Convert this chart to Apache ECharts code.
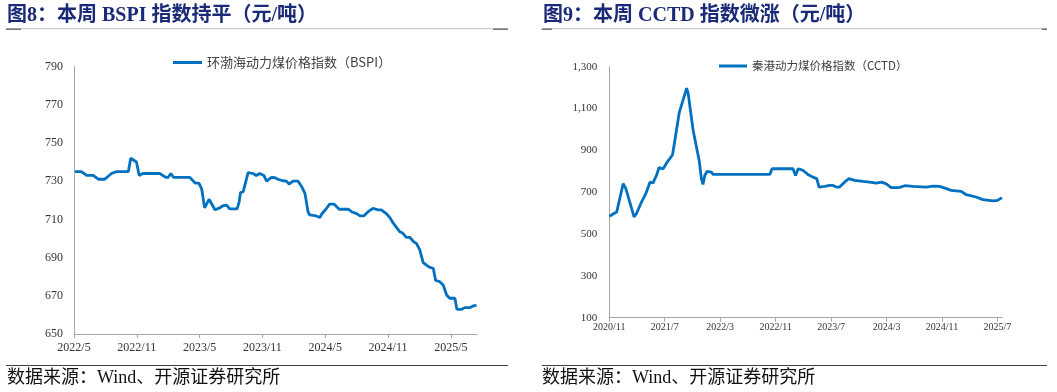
<!DOCTYPE html>
<html>
<head>
<meta charset="utf-8">
<script src="https://cdn.jsdelivr.net/npm/echarts@6/dist/echarts.min.js"></script>
<style>
html,body{margin:0;padding:0;background:#fff;}
#c{width:1057px;height:392px;}
</style>
</head>
<body>
<div id="c"></div>
<script>
// ---------- data ----------
const bspiDates = ['2022-05-04','2022-05-23','2022-06-07','2022-06-26','2022-07-11','2022-07-30','2022-08-19','2022-09-03','2022-10-07','2022-10-14','2022-10-31','2022-11-08','2022-11-18','2023-01-07','2023-01-25','2023-02-01','2023-02-08','2023-02-15','2023-04-03','2023-04-18','2023-04-29','2023-05-07','2023-05-16','2023-05-21','2023-05-29','2023-06-15','2023-06-29','2023-07-07','2023-07-11','2023-07-19','2023-07-28','2023-08-19','2023-08-25','2023-08-29','2023-09-06','2023-09-20','2023-10-04','2023-10-14','2023-10-24','2023-11-05','2023-11-13','2023-11-27','2023-12-07','2023-12-16','2023-12-30','2024-01-10','2024-01-18','2024-01-30','2024-02-13','2024-02-23','2024-03-03','2024-03-12','2024-03-17','2024-04-01','2024-04-16','2024-04-21','2024-05-03','2024-05-14','2024-05-27','2024-06-11','2024-07-07','2024-07-17','2024-08-01','2024-08-11','2024-08-22','2024-09-04','2024-09-18','2024-10-02','2024-10-12','2024-10-27','2024-11-06','2024-11-16','2024-12-05','2024-12-14','2024-12-24','2025-01-03','2025-01-15','2025-01-23','2025-02-02','2025-02-11','2025-02-20','2025-03-01','2025-03-11','2025-03-18','2025-03-30','2025-04-09','2025-04-19','2025-04-28','2025-05-13','2025-05-19','2025-06-02','2025-06-11','2025-06-26','2025-07-05','2025-07-15'];
const bspiValues = [735,735,733,733,731,731,734,735,735,742,740,733,734,734,732,732,734,732,732,729,729,726,716,716,720.5,715,716,717,716,717.5,715.5,715.5,719,724,724.5,734.5,734,733,734,733,730,732,731.8,731,730.2,730,728.5,730,730,727,723.6,714,712.3,712,711,712.8,715.3,718,718,715.3,715.3,714,713,711.8,711.8,714,715.8,715,715,713,711,708,703.5,702.7,700.6,700.6,698.3,697.4,694,687.3,686,684.9,684.4,678,677.4,675.6,670.4,668.7,668.7,662.9,662.9,663.8,663.8,664.7,665];

const cctdDates = ['2020-11-02','2020-11-21','2020-12-03','2021-01-01','2021-01-13','2021-02-17','2021-02-27','2021-03-06','2021-03-21','2021-03-28','2021-04-09','2021-04-15','2021-04-27','2021-05-04','2021-05-11','2021-05-19','2021-05-26','2021-06-06','2021-06-24','2021-07-02','2021-07-12','2021-08-05','2021-09-04','2021-10-06','2021-10-13','2021-11-04','2021-11-30','2021-12-10','2021-12-17','2021-12-25','2022-01-04','2022-01-24','2022-01-31','2022-10-06','2022-10-16','2023-01-16','2023-01-28','2023-02-08','2023-02-28','2023-03-21','2023-04-12','2023-04-29','2023-05-09','2023-06-03','2023-06-25','2023-07-09','2023-07-24','2023-08-08','2023-08-30','2023-09-18','2023-10-13','2023-11-19','2023-12-18','2024-01-17','2024-02-08','2024-02-27','2024-03-22','2024-04-13','2024-04-28','2024-05-20','2024-06-25','2024-08-23','2024-09-22','2024-10-21','2024-11-20','2024-12-11','2025-01-25','2025-02-15','2025-03-29','2025-04-28','2025-06-11','2025-07-02','2025-07-21'];
const cctdValues = [585,598,605,741,717,582,598,605,653,653,693,693,748,756,744,765,780,817,812,812,844,879,1082,1198,1170,995,852,765,737,780,799,796,785,785,812,813,780,812,804,785,772,765,724.5,728,732.6,732.6,724.5,724.5,748,765,756.5,751.7,748.4,743.6,748.4,740.8,721.7,721.7,723,731,728,724.5,729.3,728,717,709,704,688,677,664.5,658,661,674];

const bspiTickLabels = ['2022/5','2022/11','2023/5','2023/11','2024/5','2024/11','2025/5'];
const cctdTickLabels = ['2020/11','2021/7','2022/3','2022/11','2023/7','2024/3','2024/11','2025/7'];

const bspiName = '环渤海动力煤价格指数（BSPI）';
const cctdName = '秦港动力煤价格指数（CCTD）';
const title1 = '图8：本周 BSPI 指数持平（元/吨）';
const title2 = '图9：本周 CCTD 指数微涨（元/吨）';
const sourceText = '数据来源：Wind、开源证券研究所';

// ---------- helpers ----------
function monthOffset(dateStr, baseY, baseM) {
  const [y, m, d] = dateStr.split('-').map(Number);
  const dim = new Date(y, m, 0).getDate();
  return (y - baseY) * 12 + (m - baseM) + (d - 1) / dim;
}
const bspiData = bspiDates.map((d, i) => [monthOffset(d, 2022, 5), bspiValues[i]]);
const cctdData = cctdDates.map((d, i) => [monthOffset(d, 2020, 11), cctdValues[i]]);

const SERIF = '"Liberation Serif", "Times New Roman", "Noto Sans CJK SC", serif';
const CJK = '"Noto Sans CJK SC", sans-serif';
const BLUE = '#0070C0';
const AX = '#a6a6a6';

const chart = echarts.init(document.getElementById('c'), null, {renderer: 'canvas'});

function xAxisCfg(gridIndex, max, interval, labels, fontSize, margin) {
  const vals = labels.map((_, i) => i * interval);
  return {
    type: 'value', gridIndex, min: 0, max, interval,
    axisLine: {show: true, lineStyle: {color: AX, width: 1}},
    axisTick: {show: true, length: 4, customValues: vals, lineStyle: {color: AX}},
    splitLine: {show: false},
    axisLabel: {
      customValues: vals, margin,
      color: '#333', fontFamily: SERIF, fontSize,
      formatter: v => labels[Math.round(v / interval)] || ''
    }
  };
}
function yAxisCfg(gridIndex, min, max, interval, fontSize, margin, fmt) {
  return {
    type: 'value', gridIndex, min, max, interval,
    axisLine: {show: true, lineStyle: {color: AX, width: 1}},
    axisTick: {show: false},
    splitLine: {show: false},
    axisLabel: {margin, color: '#333', fontFamily: SERIF, fontSize, formatter: fmt}
  };
}

const option = {
  animation: false,
  backgroundColor: '#fff',
  grid: [
    {left: 74, top: 66.5, width: 403, height: 267.5},
    {left: 609.3, top: 66.7, width: 393, height: 251}
  ],
  xAxis: [
    xAxisCfg(0, 38.5, 6, bspiTickLabels, 12, 8),
    xAxisCfg(1, 56.7, 8, cctdTickLabels, 10, 5)
  ],
  yAxis: [
    yAxisCfg(0, 650, 790, 20, 12, 11, v => String(v)),
    yAxisCfg(1, 100, 1300, 200, 11, 12, v => v.toLocaleString('en-US'))
  ],
  legend: [
    {
      data: [bspiName], left: 168, top: 51, icon: 'rect', itemWidth: 29, itemHeight: 3,
      textStyle: {fontFamily: CJK, fontSize: 13, color: '#404040', lineHeight: 13}
    },
    {
      data: [cctdName], left: 714, top: 55, icon: 'rect', itemWidth: 28, itemHeight: 3,
      textStyle: {fontFamily: CJK, fontSize: 11.5, color: '#404040', lineHeight: 12}
    }
  ],
  series: [
    {
      name: bspiName, type: 'line', xAxisIndex: 0, yAxisIndex: 0, data: bspiData,
      showSymbol: false, symbol: 'none', lineStyle: {color: BLUE, width: 2.8}, itemStyle: {color: BLUE}
    },
    {
      name: cctdName, type: 'line', xAxisIndex: 1, yAxisIndex: 1, data: cctdData,
      showSymbol: false, symbol: 'none', lineStyle: {color: BLUE, width: 2.8}, itemStyle: {color: BLUE}
    }
  ],
  graphic: [
    {type: 'text', left: 7, top: 5.5, style: {text: title1, fill: '#1B2A78', font: 'bold 20px ' + SERIF}},
    {type: 'text', left: 543, top: 5.5, style: {text: title2, fill: '#1B2A78', font: 'bold 20px ' + SERIF}},
    // header rules
    {type: 'line', shape: {x1: 6, y1: 28.7, x2: 508, y2: 28.7}, style: {stroke: '#bfbfbf', lineWidth: 1}},
    {type: 'line', shape: {x1: 6, y1: 29.2, x2: 21, y2: 29.2}, style: {stroke: '#404040', lineWidth: 1}},
    {type: 'line', shape: {x1: 493, y1: 29.2, x2: 508, y2: 29.2}, style: {stroke: '#404040', lineWidth: 1}},
    {type: 'line', shape: {x1: 541.7, y1: 28.7, x2: 1047, y2: 28.7}, style: {stroke: '#bfbfbf', lineWidth: 1}},
    {type: 'line', shape: {x1: 541.7, y1: 29.2, x2: 552, y2: 29.2}, style: {stroke: '#404040', lineWidth: 1}},
    {type: 'line', shape: {x1: 1041.7, y1: 29.2, x2: 1047, y2: 29.2}, style: {stroke: '#404040', lineWidth: 1}},
    // footer rules
    {type: 'line', shape: {x1: 6, y1: 365.5, x2: 508, y2: 365.5}, style: {stroke: '#404040', lineWidth: 1.2}},
    {type: 'line', shape: {x1: 541.7, y1: 365.5, x2: 1047, y2: 365.5}, style: {stroke: '#404040', lineWidth: 1.2}},
    {type: 'text', left: 7, top: 369.5, style: {text: sourceText, fill: '#111', font: '18px ' + SERIF}},
    {type: 'text', left: 542, top: 369.5, style: {text: sourceText, fill: '#111', font: '18px ' + SERIF}}
  ]
};
chart.setOption(option);
</script>
</body>
</html>
